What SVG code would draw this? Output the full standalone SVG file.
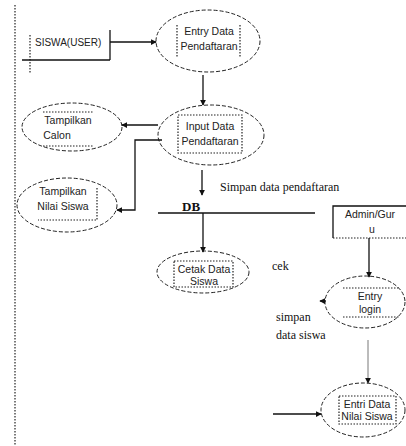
<svg xmlns="http://www.w3.org/2000/svg" width="406" height="446" viewBox="0 0 406 446">
<style>
.el{fill:none;stroke:#222;stroke-width:1;stroke-dasharray:4 2}
.dot{fill:none;stroke:#222;stroke-width:1.2;stroke-dasharray:1.5 1.5}
.ln{fill:none;stroke:#111;stroke-width:1.3}
.t{font-family:"Liberation Sans",Arial,sans-serif;font-size:10.5px;fill:#222;text-anchor:middle}
.s{font-family:"Liberation Serif","Times New Roman",serif;font-size:12px;fill:#111}
</style>
<defs>
<marker id="ah" viewBox="0 0 8 8" refX="7" refY="4" markerWidth="6" markerHeight="6" orient="auto" markerUnits="userSpaceOnUse">
<path d="M0,0 L8,4 L0,8 z" fill="#111"/>
</marker>
</defs>
<rect width="406" height="446" fill="#fff"/>
<line x1="15" y1="5" x2="15" y2="446" class="dot"/>

<g id="siswa">
<line x1="30" y1="35" x2="30" y2="74" class="dot"/>
<line x1="110" y1="30" x2="110" y2="60" class="ln"/>
<line x1="22" y1="60" x2="110" y2="60" class="ln"/>
<text x="35" y="46" class="t" style="text-anchor:start;font-size:10px">SISWA(USER)</text>
</g>

<g id="entry-data">
<ellipse cx="208" cy="41" rx="52" ry="31" class="el"/>
<line x1="177" y1="25" x2="177" y2="58" class="dot"/>
<line x1="240" y1="25" x2="240" y2="58" class="dot"/>
<text x="209" y="35" class="t">Entry Data</text>
<text x="209" y="50" class="t">Pendaftaran</text>
</g>

<g id="input-data">
<ellipse cx="211" cy="135" rx="53" ry="30" class="el"/>
<rect x="178" y="115" width="64" height="38" class="dot"/>
<text x="210" y="130" class="t">Input Data</text>
<text x="210" y="145" class="t">Pendaftaran</text>
</g>

<g id="tampilkan-calon">
<ellipse cx="72" cy="127" rx="50" ry="24" class="el"/>
<line x1="43" y1="112" x2="93" y2="112" class="dot"/>
<line x1="43" y1="146" x2="93" y2="146" class="dot"/>
<text x="68" y="124" class="t">Tampilkan</text>
<text x="57" y="139" class="t">Calon</text>
</g>

<g id="tampilkan-nilai">
<ellipse cx="67" cy="205" rx="50" ry="27" class="el"/>
<polyline points="97,188 97,220 38,220" class="dot"/>
<text x="63" y="195" class="t">Tampilkan</text>
<text x="63" y="210" class="t">Nilai Siswa</text>
</g>

<g id="db">
<line x1="158" y1="213" x2="315" y2="213" class="ln"/>
<text x="182" y="211" class="s" style="font-weight:bold;font-size:13px">DB</text>
</g>

<g id="cetak">
<ellipse cx="203" cy="272" rx="46" ry="21" class="el"/>
<rect x="174" y="261" width="59" height="26" class="dot"/>
<text x="204" y="273" class="t">Cetak Data</text>
<text x="204" y="285" class="t">Siswa</text>
</g>

<g id="admin">
<polyline points="406,206 333,206 333,238" class="ln"/>
<line x1="333" y1="238" x2="406" y2="238" class="dot"/>
<text x="370" y="218" class="t">Admin/Gur</text>
<text x="372" y="233" class="t">u</text>
</g>

<g id="entry-login">
<ellipse cx="365" cy="302" rx="40" ry="26" class="el"/>
<line x1="343" y1="288" x2="400" y2="288" class="dot"/>
<line x1="343" y1="317" x2="400" y2="317" class="dot"/>
<text x="370" y="300" class="t">Entry</text>
<text x="370" y="313" class="t">login</text>
</g>

<g id="entri-nilai">
<ellipse cx="363" cy="410" rx="42" ry="27" class="el"/>
<rect x="339" y="396" width="57" height="28" class="dot"/>
<text x="367" y="408" class="t">Entri Data</text>
<text x="367" y="420" class="t">Nilai Siswa</text>
</g>

<g id="labels">
<text x="220" y="191" class="s">Simpan data pendaftaran</text>
<text x="272" y="270" class="s">cek</text>
<text x="276" y="321" class="s">simpan</text>
<text x="276" y="339" class="s">data siswa</text>
</g>

<g id="connectors">
<line x1="110" y1="42" x2="156" y2="42" class="ln" marker-end="url(#ah)"/>
<line x1="203" y1="75" x2="203" y2="105" class="ln" marker-end="url(#ah)"/>
<line x1="158" y1="125" x2="122" y2="125" class="ln" marker-end="url(#ah)"/>
<polyline points="162,140 135,140 135,210 117,210" class="ln" marker-end="url(#ah)"/>
<line x1="202" y1="170" x2="202" y2="195" class="ln" marker-end="url(#ah)"/>
<line x1="203" y1="213" x2="203" y2="252" class="ln" marker-end="url(#ah)"/>
<line x1="369" y1="238" x2="369" y2="277" class="ln" marker-end="url(#ah)"/>
<line x1="326" y1="301" x2="320" y2="301" class="ln" marker-end="url(#ah)"/>
<line x1="368" y1="340" x2="368" y2="383" stroke="#555" stroke-width="0.8" marker-end="url(#ah)"/>
<line x1="273" y1="414" x2="321" y2="414" class="ln" marker-end="url(#ah)"/>
</g>
</svg>
